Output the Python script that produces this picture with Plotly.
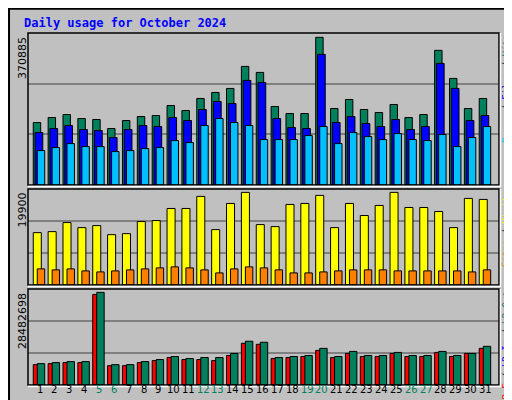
import plotly.graph_objects as go

days = list(range(1, 32))
day_labels = [str(d) for d in days]
weekend = [5, 6, 12, 13, 19, 20, 26, 27]

hits = [156912,169498,177050,166981,164464,141808,161946,172016,174533,199706,187119,217327,232431,242500,297881,282777,197189,179567,179567,370885,192154,214810,189637,182085,202223,169498,177050,338160,267673,192154,217327]
files = [131739,141808,149360,139291,136773,119152,139291,149360,146843,169498,161946,189637,209775,204740,262638,257604,166981,144325,141808,328088,156912,172016,154394,146843,164464,139291,146843,305432,242500,161946,174533]
pages = [86427,93979,104048,96497,96497,83910,86427,91462,93979,111600,106566,149360,166981,156912,149360,114118,114118,114118,124187,146843,104048,131739,121670,114118,129221,114118,111600,126704,96497,119152,146843]
visits = [11248,11464,13411,12329,12762,10815,11031,13627,13843,16439,16439,19034,11897,17520,19900,12978,12545,17304,17520,19251,12329,17520,14925,17088,19900,16655,16655,15790,12329,18602,18386]
sites = [3461,3245,3461,3028,2812,3028,3245,3461,3677,3893,3677,3245,2596,3461,3893,3677,3245,2596,2596,2812,3028,3245,3245,3245,3028,3028,3028,3028,3028,2812,3245]
kb_f = [6259920,6572916,6885912,6885912,27856644,5946924,5946924,6885912,7511904,8450892,7824900,7824900,7511904,9076884,12832836,12519840,8137896,8450892,8763888,10641864,8450892,9702876,8763888,8763888,9702876,8763888,8763888,10015872,8763888,9702876,11267856]
kb_out = [6572916,6885912,7198908,7198908,28482698,6259920,6259920,7198908,7824900,8763888,8137896,8450892,8450892,9702876,13458828,13145832,8450892,8763888,9076884,11267856,8763888,10328868,9076884,9076884,10015872,9076884,9076884,10328868,9076884,9702876,11893848]
kb_in = [150000,150000,150000,150000,200000,150000,150000,150000,150000,150000,150000,150000,150000,150000,250000,250000,150000,150000,150000,250000,150000,150000,150000,150000,150000,150000,150000,250000,150000,150000,150000]

GREEN = "#00805C"
fig = go.Figure()

def bar(y, color, off, w, axis):
    fig.add_trace(go.Bar(x=days, y=y, marker=dict(color=color, line=dict(color="black", width=1)),
                         offset=off, width=w, xaxis="x" + axis, yaxis="y" + axis, showlegend=False))

bar(hits, GREEN, -0.52, 0.5, "")
bar(files, "#0000FF", -0.4, 0.52, "")
bar(pages, "#00C0FF", -0.25, 0.5, "")
bar(visits, "#FFFF00", -0.52, 0.54, "2")
bar(sites, "#FF8000", -0.25, 0.5, "2")
bar(kb_f, "#FF0000", -0.52, 0.36, "3")
bar(kb_in, "#0000FF", -0.48, 0.1, "3")
bar(kb_out, GREEN, -0.25, 0.5, "3")

xr = [0.126, 31.81]
dom_x = [20/512, 491/512]
panels = [("", [0.5575, 0.9375], 381790), ("2", [0.3075, 0.5475], 20622), ("3", [0.0575, 0.2975], 29525956)]
lay = dict(barmode="overlay", width=512, height=400, margin=dict(l=0, r=0, t=0, b=0),
           paper_bgcolor="#C0C0C0", plot_bgcolor="#C0C0C0", showlegend=False)
for ax, dom, top in panels:
    lay["xaxis" + ax] = dict(domain=dom_x, range=xr, showticklabels=False, showgrid=False, zeroline=False,
                             anchor="y" + ax, fixedrange=True)
    lay["yaxis" + ax] = dict(domain=dom, range=[0, top], tickvals=[top/3, 2*top/3], showticklabels=False,
                             showgrid=True, gridcolor="#808080", gridwidth=1.5, zeroline=False, anchor="x" + ax)
fig.update_layout(**lay)

shapes = [dict(type="rect", xref="paper", yref="paper", x0=0.002, y0=0.002, x1=0.998, y1=0.998,
               line=dict(color="black", width=2))]
for ax, dom, top in panels:
    shapes.append(dict(type="rect", xref="paper", yref="paper", x0=dom_x[0], x1=dom_x[1], y0=dom[0], y1=dom[1],
                       line=dict(color="black", width=1.5)))
    shapes.append(dict(type="path", xref="paper", yref="paper",
                       path=f"M {dom_x[1]+0.003},{dom[1]} L {dom_x[1]+0.003},{dom[0]-0.004} L {dom_x[0]},{dom[0]-0.004}",
                       line=dict(color="white", width=1.5)))
fig.update_layout(shapes=shapes)

ann = []
font_m = "DejaVu Sans Mono"
ann.append(dict(text="<b>Daily usage for October 2024</b>", x=14/512, y=1-6/400, xref="paper", yref="paper",
                xanchor="left", yanchor="top", showarrow=False, font=dict(family=font_m, size=12, color="#0000FF")))
for d, lab in zip(days, day_labels):
    ann.append(dict(text=lab, x=d - 0.1, y=1-389/400, xref="x3", yref="paper", showarrow=False,
                    font=dict(family="DejaVu Sans", size=10, color=GREEN if d in weekend else "black")))
for ax, dom, top, lbl in [("", panels[0][1], 0, "370885"), ("2", panels[1][1], 0, "19900"), ("3", panels[2][1], 0, "28482698")]:
    ann.append(dict(text=lbl, x=14/512, y=dom[1]-0.005, xref="paper", yref="paper", textangle=-90, showarrow=False,
                    xanchor="center", yanchor="top", font=dict(family="DejaVu Sans", size=11, color="black")))
right = [
    (panels[0][1], '<span style="color:#00C0FF">Pages</span> / <span style="color:#0000FF">Files</span> / <span style="color:#00805C">Hits</span>'),
    (panels[1][1], '<span style="color:#FF8000">Sites</span> / <span style="color:#FFFF00">Visits</span>'),
    (panels[2][1], '<span style="color:#FF0000">kB F</span> / <span style="color:#0000FF">kB In</span> / <span style="color:#00805C">kB Out</span>'),
]
for dom, txt in right:
    ann.append(dict(text=txt, x=498/512, y=dom[1], xref="paper", yref="paper", textangle=-90, showarrow=False,
                    xanchor="center", yanchor="top", font=dict(family=font_m, size=9, color="black")))
fig.update_layout(annotations=ann)

fig.write_html("out.html")
